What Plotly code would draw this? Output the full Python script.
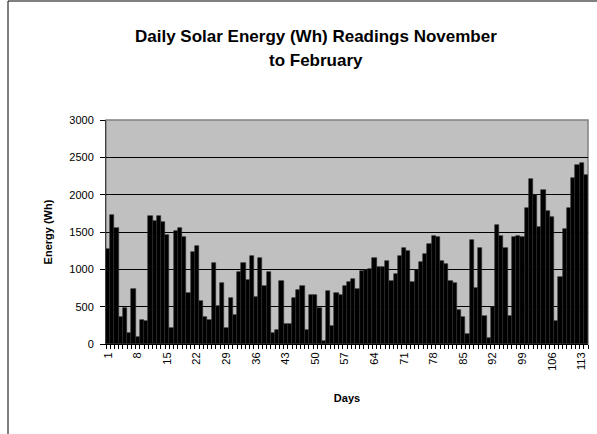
import plotly.graph_objects as go

days = list(range(1, 115))
energy_wh = [
    1270, 1728, 1549, 366, 478, 147, 737, 98, 326, 308,
    1710, 1647, 1719, 1634, 1455, 210, 1518, 1558, 1429, 687,
    1232, 1312, 580, 362, 321, 1080, 513, 812, 214, 612,
    388, 960, 1080, 853, 1179, 629, 1156, 781, 964, 147,
    192, 844, 268, 268, 612, 728, 781, 192, 661, 661,
    482, 45, 710, 241, 683, 661, 781, 826, 870, 741,
    973, 987, 1000, 1147, 1027, 1036, 1112, 844, 942, 1174,
    1281, 1241, 826, 991, 1103, 1201, 1335, 1451, 1429, 1107,
    1075, 839, 812, 455, 362, 129, 1397, 745, 1290, 375,
    76, 496, 1594, 1442, 1290, 375, 1433, 1450, 1430, 1818,
    2210, 1994, 1561, 2065, 1782, 1700, 303, 903, 1541, 1826,
    2228, 2393, 2425, 2262,
]
tick_days = list(range(1, 115, 7))
y_ticks = [0, 500, 1000, 1500, 2000, 2500, 3000]
title_lines = ["Daily Solar Energy (Wh) Readings November", "to February"]

W, H = 597, 434
L, R, T, B = 106, 9, 120, 90
pw = W - L - R
ph = H - T - B


def px_x(p):
    return (p - L) / pw


def px_y(p):
    return (H - B - p) / ph


font = "Liberation Sans, Arial, sans-serif"

fig = go.Figure()
fig.add_trace(go.Bar(
    x=days, y=energy_wh,
    marker=dict(color="black", line=dict(color="#2a2a2a", width=0.6)),
    showlegend=False,
))

annotations = []
for text, ypx in zip(title_lines, [36, 60]):
    annotations.append(dict(
        text="<b>" + text + "</b>", xref="paper", yref="paper",
        x=px_x(316), y=px_y(ypx), xanchor="center", yanchor="middle",
        showarrow=False, font=dict(size=17, family=font, color="black"),
    ))

fig.update_layout(
    width=W, height=H,
    margin=dict(l=L, r=R, t=T, b=B),
    paper_bgcolor="white",
    plot_bgcolor="#C0C0C0",
    bargap=0,
    font=dict(family=font, size=11, color="black"),
    annotations=annotations,
    xaxis=dict(
        range=[0.5, 114.5],
        tickmode="array", tickvals=tick_days,
        ticktext=[str(d) for d in tick_days],
        tickangle=-90,
        ticks="", showgrid=False, zeroline=False,
        showline=True, linecolor="black", linewidth=1,
        ticklabelstandoff=3,
        minor=dict(tick0=0.5, dtick=1, ticks="outside", ticklen=4,
                   tickcolor="black", showgrid=False),
        title=dict(text="<b>Days</b>", font=dict(size=11), standoff=24),
        tickfont=dict(size=11),
    ),
    yaxis=dict(
        range=[0, 3000],
        tickmode="array", tickvals=y_ticks,
        ticks="outside", ticklen=5, tickcolor="black",
        ticklabelstandoff=4,
        showgrid=True, gridcolor="black", gridwidth=1,
        zeroline=False,
        showline=True, linecolor="#404040", linewidth=1,
        title=dict(text="<b>Energy (Wh)</b>", font=dict(size=11), standoff=14),
        tickfont=dict(size=11),
    ),
    shapes=[
        dict(type="rect", xref="paper", yref="paper", x0=0, x1=1, y0=0, y1=1,
             line=dict(color="#808080", width=1.5), layer="below"),
        dict(type="line", xref="paper", yref="paper",
             x0=px_x(8), x1=px_x(8), y0=px_y(1), y1=px_y(440),
             line=dict(color="black", width=1)),
        dict(type="line", xref="paper", yref="paper",
             x0=px_x(8), x1=px_x(600), y0=px_y(1), y1=px_y(1),
             line=dict(color="black", width=1)),
    ],
)

fig.write_html(
    "out.html",
    config={"displayModeBar": False},
    post_script="document.body.style.margin='0px';document.body.style.overflow='hidden';",
)
